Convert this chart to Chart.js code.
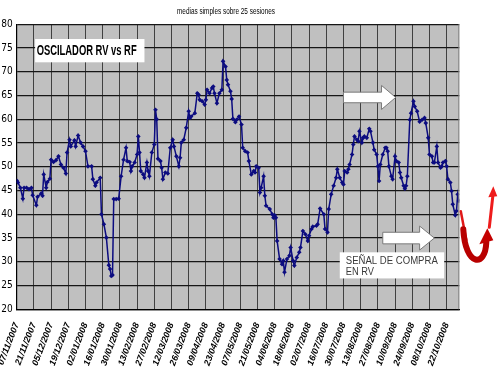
<!DOCTYPE html>
<html><head><meta charset="utf-8">
<script src="https://cdn.jsdelivr.net/npm/chart.js@4/dist/chart.umd.min.js"></script>
<style>html,body{margin:0;padding:0;background:#fff;overflow:hidden}</style>
</head><body><canvas id="c" width="500" height="375"></canvas>
<script>
const chartTitle = 'medias simples sobre 25 sesiones';
const boxTitle = 'OSCILADOR RV vs RF';
const signalText = ['SEÑAL DE COMPRA', 'EN RV'];
const startDate = '07/11/2007';
const tickLabels = ['07/11/2007','21/11/2007','05/12/2007','19/12/2007','02/01/2008','16/01/2008','30/01/2008','13/02/2008','27/02/2008','12/03/2008','26/03/2008','09/04/2008','23/04/2008','07/05/2008','21/05/2008','04/06/2008','18/06/2008','02/07/2008','16/07/2008','30/07/2008','13/08/2008','27/08/2008','10/09/2008','24/09/2008','08/10/2008','22/10/2008'];
// days elapsed since 07/11/2007 for each plotted session
const sessionDay = [
0,1,3,5,6,8,10,12,13,16,
17,20,21,22,24,25,27,28,30,32,
34,36,38,40,41,43,44,47,48,50,
52,54,56,58,61,62,64,65,68,
69,71,73,75,76,77,78,79,81,83,
85,87,89,90,92,93,94,96,98,99,
100,101,103,104,106,107,108,110,112,113,
114,115,117,118,119,121,123,125,127,128,
130,132,133,134,136,138,140,141,142,145,
147,148,149,151,153,154,155,157,159,160,
161,163,165,167,168,170,171,172,174,175,
176,178,179,181,183,184,186,188,189,191,
193,194,195,197,198,199,201,202,203,206,
208,209,210,211,212,214,216,217,218,220,
222,223,225,226,228,230,231,233,235,237,
238,240,241,244,245,247,250,251,253,254,
256,258,260,261,263,265,266,267,269,270,
271,273,274,275,277,278,279,281,282,283,
285,287,288,290,291,293,294,295,296,298,
300,301,302,303,305,306,308,309,311,312,
313,315,316,317,318,320,321,323,324,326,
328,330,332,333,335,336,338,339,340,342,
343,345,346,347,349,350,351,353,354,355,
357,358,359,360];
const oscillator = [
47.1,46.7,45.6,43.3,45.6,45.6,45.3,45.6,44,41.9,
43.7,44.4,43.9,48.4,45.6,46.8,47.5,51.5,51,51.4,
52.2,50.5,49.8,48.6,53,55.7,54.3,55.6,54.3,56.6,
55.1,54.3,53.3,50.1,50.1,47.4,46,46.7,47.7,
40,37.9,35.1,29.3,28.5,27,27.2,43.2,43.2,43.3,
48,51.5,54,51.2,51,49.1,50.1,50.9,52.6,56.4,
53,49.1,48.4,47.7,50.9,49.1,48,53,54.7,62,
60,51.7,51.2,49.8,47.4,48.8,48.6,54,55.7,54.3,
52.2,50.1,51.9,55.1,55.7,58.2,61.7,60.3,60.6,61.3,
65.5,65.2,64.1,63.8,63.1,64.1,66.2,65.5,66.6,66.9,
65.5,63.4,65.5,66.2,72.2,71.1,68.3,67.3,65.9,64.3,
60.1,59.4,59.9,60.6,58.9,54,53.3,53,51.2,48.4,
49.1,48.8,50.1,49.8,44.6,45.6,48,43.9,41.8,41.1,
40,39.3,39.8,39.3,34.4,30.6,29.5,30.2,27.8,30.6,
31.3,33,30.2,29.2,30.9,32,33,36.5,35.8,34.4,
35.5,36.9,37.4,37.6,37.9,41.2,40,36.9,36.2,41.1,
44.2,46,47.7,49.5,47.7,46.7,46.3,49.1,48.8,49.5,
50.5,52.6,54.7,56.4,55.7,55.4,57.5,55.1,56.1,56.4,
56.1,58,57.5,55.1,53.6,52.6,50.1,47,50.5,52.6,
54,54,53.3,50.1,48,47.4,52.2,51.2,50.9,48.8,
47.7,46,45.4,46,48,59.9,61.3,63.8,62.7,61.7,
59.5,59.9,60.3,59.2,56.1,52.6,52.2,50.9,50.9,54.3,
50.9,49.8,50.1,50.9,51.2,50.1,47.4,46.7,44.9,42.1,
39.8,40.7,44.2,42.8];

function toDay(s){
  const p = s.split('/').map(Number), q = startDate.split('/').map(Number);
  return Math.round((Date.UTC(p[2],p[1]-1,p[0]) - Date.UTC(q[2],q[1]-1,q[0]))/864e5);
}
const tickDays = tickLabels.map(toDay);
const points = sessionDay.map((d,i)=>({x:d, y:oscillator[i]}));

const SANS = "'Liberation Sans', Arial, sans-serif";
const NARROW = "'Liberation Sans Narrow', 'DejaVu Sans Condensed', 'Liberation Sans', sans-serif";

function narrowText(ctx, text, x, y, font, width, align){
  ctx.save();
  ctx.font = font;
  const w = ctx.measureText(text).width;
  const sx = width / w;
  ctx.translate(x, y);
  ctx.scale(sx, 1);
  ctx.textAlign = align || 'left';
  ctx.fillText(text, 0, 0);
  ctx.restore();
}

function blockArrow(ctx, xs, ys, tail, bodyEnd, tip, yc, bodyHalf, headHalf){
  const x0 = xs.getPixelForValue(tail), x1 = xs.getPixelForValue(bodyEnd), x2 = xs.getPixelForValue(tip);
  const c = ys.getPixelForValue(yc);
  ctx.save();
  ctx.beginPath();
  ctx.moveTo(x0, c-bodyHalf); ctx.lineTo(x1, c-bodyHalf); ctx.lineTo(x1, c-headHalf);
  ctx.lineTo(x2, c); ctx.lineTo(x1, c+headHalf); ctx.lineTo(x1, c+bodyHalf);
  ctx.lineTo(x0, c+bodyHalf); ctx.closePath();
  ctx.fillStyle = '#ffffff'; ctx.fill();
  ctx.strokeStyle = '#7a7a7a'; ctx.lineWidth = 1; ctx.stroke();
  ctx.restore();
}

const decor = {
  id: 'decor',
  beforeDraw(chart){
    const {ctx, chartArea:a} = chart;
    ctx.save();
    ctx.fillStyle = '#c0c0c0';
    ctx.fillRect(a.left, a.top, a.right-a.left, a.bottom-a.top);
    ctx.restore();
  },
  afterDraw(chart){
    const {ctx, chartArea:a, scales:{x:xs, y:ys}} = chart;
    ctx.save();
    // plot right border
    ctx.strokeStyle = '#808080'; ctx.lineWidth = 1;
    ctx.beginPath(); ctx.moveTo(a.right-0.5, a.top); ctx.lineTo(a.right-0.5, a.bottom); ctx.stroke();
    // title
    ctx.fillStyle = '#000';
    ctx.textBaseline = 'alphabetic';
    narrowText(ctx, chartTitle, (a.left+a.right)/2 - 12, 14, '9px '+SANS, 98, 'center');
    // oscillator label box
    const bx1 = xs.getPixelForValue(15), bx2 = xs.getPixelForValue(104);
    const by1 = ys.getPixelForValue(76.9), by2 = ys.getPixelForValue(72.0);
    ctx.fillStyle = '#fff'; ctx.fillRect(bx1, by1, bx2-bx1, by2-by1);
    ctx.fillStyle = '#000';
    narrowText(ctx, boxTitle, bx1+1.5, by1+15.5, 'bold 14px '+SANS, 100, 'left');
    // white block arrows
    blockArrow(ctx, xs, ys, 266, 297, 308.5, 64.6, 5.3, 12);
    blockArrow(ctx, xs, ys, 298, 328, 340, 35, 5.8, 12);
    // signal box
    const sx1 = xs.getPixelForValue(263), sx2 = xs.getPixelForValue(348);
    const sy1 = ys.getPixelForValue(32.0), sy2 = ys.getPixelForValue(26.5);
    ctx.fillStyle = '#fff'; ctx.fillRect(sx1, sy1, sx2-sx1, sy2-sy1);
    ctx.fillStyle = '#3a3a3a';
    narrowText(ctx, signalText[0], sx1+6, sy1+11.5, '10px '+SANS, 92, 'left');
    ctx.font = '10px '+SANS; ctx.textAlign = 'left';
    ctx.save(); ctx.translate(sx1+6, sy1+22.5); ctx.scale(0.93,1); ctx.fillText(signalText[1], 0, 0); ctx.restore();
    // red arrows
    const R = a.right, T = a.top;
    ctx.lineCap = 'round';
    ctx.strokeStyle = '#e01818'; ctx.lineWidth = 2.5;
    ctx.beginPath(); ctx.moveTo(R+1.5, T+187); ctx.lineTo(R+7, T+216); ctx.stroke();
    ctx.strokeStyle = '#b80000'; ctx.lineWidth = 6;
    ctx.beginPath(); ctx.moveTo(R+4, T+205); ctx.bezierCurveTo(R+6, T+242, R+26, T+244, R+27, T+218); ctx.stroke();
    ctx.fillStyle = '#c40000';
    ctx.beginPath(); ctx.moveTo(R+20, T+220); ctx.lineTo(R+34, T+216); ctx.lineTo(R+28, T+204); ctx.closePath(); ctx.fill();
    ctx.strokeStyle = '#ee1c1c'; ctx.lineWidth = 3;
    ctx.beginPath(); ctx.moveTo(R+30, T+203); ctx.lineTo(R+33.5, T+172); ctx.stroke();
    ctx.fillStyle = '#ee1c1c';
    ctx.beginPath(); ctx.moveTo(R+29, T+173); ctx.lineTo(R+38, T+172); ctx.lineTo(R+34, T+162); ctx.closePath(); ctx.fill();
    ctx.restore();
  }
};

new Chart(document.getElementById('c'), {
  type: 'line',
  data: { datasets: [{
    data: points,
    borderColor: '#0c0c80',
    backgroundColor: '#0c0c80',
    borderWidth: 1.5,
    pointStyle: 'rectRot',
    pointRadius: 2.3,
    pointBorderWidth: 0,
    tension: 0
  }]},
  options: {
    responsive: false,
    devicePixelRatio: 1,
    animation: false,
    layout: { padding: { left: 0, right: 40.7, top: 24.3, bottom: 0 } },
    plugins: { legend: {display:false}, tooltip: {enabled:false}, title: {display:false} },
    scales: {
      x: {
        type: 'linear', min: 0, max: 360.3,
        afterBuildTicks: s => { s.ticks = tickDays.map(v => ({value: v})); },
        afterFit: s => { s.height = 65.7; s.paddingLeft = 0; s.paddingRight = 0; },
        grid: { color: '#404040', lineWidth: 1, drawTicks: false },
        border: { display: true, color: '#000', width: 1.2 },
        ticks: {
          autoSkip: false, minRotation: 69, maxRotation: 69, padding: 12,
          color: '#000', font: { family: SANS, size: 9, style: 'italic', weight: 'bold' },
          callback: (v, i) => tickLabels[i]
        }
      },
      y: {
        min: 20, max: 80,
        afterFit: s => { s.width = 16.7; s.paddingTop = 0; s.paddingBottom = 0; },
        grid: { color: '#161616', lineWidth: 1.3, drawTicks: false },
        border: { display: true, color: '#000', width: 1.2 },
        ticks: { stepSize: 5, padding: 4, color: '#000', font: { family: NARROW, size: 10 } }
      }
    }
  },
  plugins: [decor]
});
</script></body></html>
